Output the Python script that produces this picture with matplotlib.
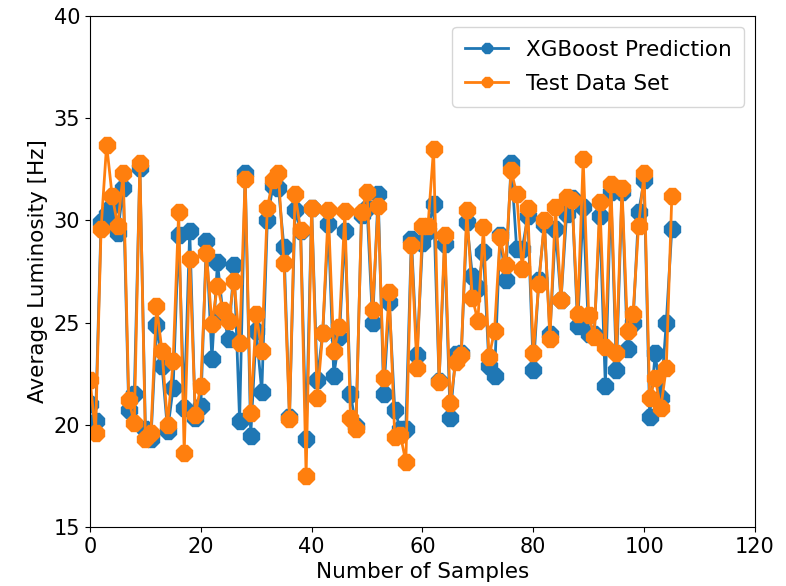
import matplotlib
matplotlib.use('Agg')
import matplotlib.pyplot as plt

# values, sample index 0..105
y_pred = [21.0, 20.2, 29.9, 30.3, 30.7, 29.4, 31.6, 20.7, 21.5, 32.55,
          19.8, 19.3, 24.9, 22.9, 19.7, 21.8, 29.3, 20.8, 29.5, 20.35,
          20.9, 29.0, 23.2, 27.95, 25.4, 24.2, 27.8, 20.2, 32.3, 19.45,
          24.6, 21.6, 30.0, 31.7, 31.6, 28.7, 20.4, 30.5, 29.5, 19.3,
          30.6, 22.2, 24.5, 29.8, 22.4, 24.3, 29.5, 21.5, 19.95, 30.25,
          30.6, 25.0, 31.3, 21.5, 26.0, 20.7, 19.8, 19.8, 29.1, 23.4,
          28.9, 29.5, 30.8, 22.15, 28.85, 20.35, 23.45, 23.5, 29.9, 27.3,
          26.7, 28.45, 22.9, 22.4, 29.3, 27.06, 32.8, 28.6, 28.6, 30.2,
          22.7, 27.1, 29.8, 24.45, 29.6, 26.1, 30.3, 31.1, 24.85, 30.65,
          24.45, 24.45, 30.2, 21.9, 31.4, 22.7, 31.4, 23.7, 25.0, 30.4,
          31.96, 20.4, 23.5, 21.3, 25.0, 29.6]
y_test = [22.2, 19.6, 29.6, 33.7, 31.2, 29.75, 32.3, 21.2, 20.1, 32.8,
          19.3, 19.6, 25.8, 23.6, 20.0, 23.1, 30.4, 18.6, 28.1, 20.5,
          21.9, 28.4, 24.95, 26.8, 25.6, 25.1, 27.05, 24.0, 32.04, 20.6,
          25.4, 23.6, 30.6, 32.0, 32.3, 27.9, 20.3, 31.3, 29.55, 17.5,
          30.6, 21.3, 24.5, 30.5, 23.6, 24.8, 30.45, 20.35, 19.8, 30.4,
          31.4, 25.6, 30.7, 22.3, 26.5, 19.4, 19.5, 18.2, 28.8, 22.8,
          29.75, 29.75, 33.5, 22.1, 29.3, 21.05, 23.05, 23.4, 30.5, 26.2,
          25.1, 29.7, 23.3, 24.6, 29.2, 27.8, 32.45, 31.3, 27.6, 30.6,
          23.5, 26.9, 30.0, 24.2, 30.65, 26.1, 31.15, 31.0, 25.4, 33.0,
          25.35, 24.3, 30.9, 23.8, 31.8, 23.5, 31.6, 24.6, 25.4, 29.75,
          32.3, 21.3, 22.3, 20.8, 22.8, 31.2]
x = list(range(len(y_pred)))

fig = plt.figure(figsize=(7.86, 5.86), dpi=100)
ax = fig.add_axes([0.1145, 0.1007, 0.846, 0.872])

ax.plot(x, y_pred, marker='8', markersize=12, lw=2, color='tab:blue', label='XGBoost Prediction')
ax.plot(x, y_test, marker='8', markersize=12, lw=2, color='tab:orange', label='Test Data Set')

ax.set_xlim(0, 120)
ax.set_ylim(15, 40)
ax.set_xticks([0, 20, 40, 60, 80, 100, 120])
ax.set_yticks([15, 20, 25, 30, 35, 40])
ax.set_xlabel('Number of Samples', fontsize=15.5)
ax.set_ylabel('Average Luminosity [Hz]', fontsize=15.5)
ax.tick_params(labelsize=15)
ax.legend(loc='upper right', fontsize=15.5, markerscale=0.7,
          labelspacing=0.65, borderpad=0.6)

fig.savefig('out.png', dpi=100)
